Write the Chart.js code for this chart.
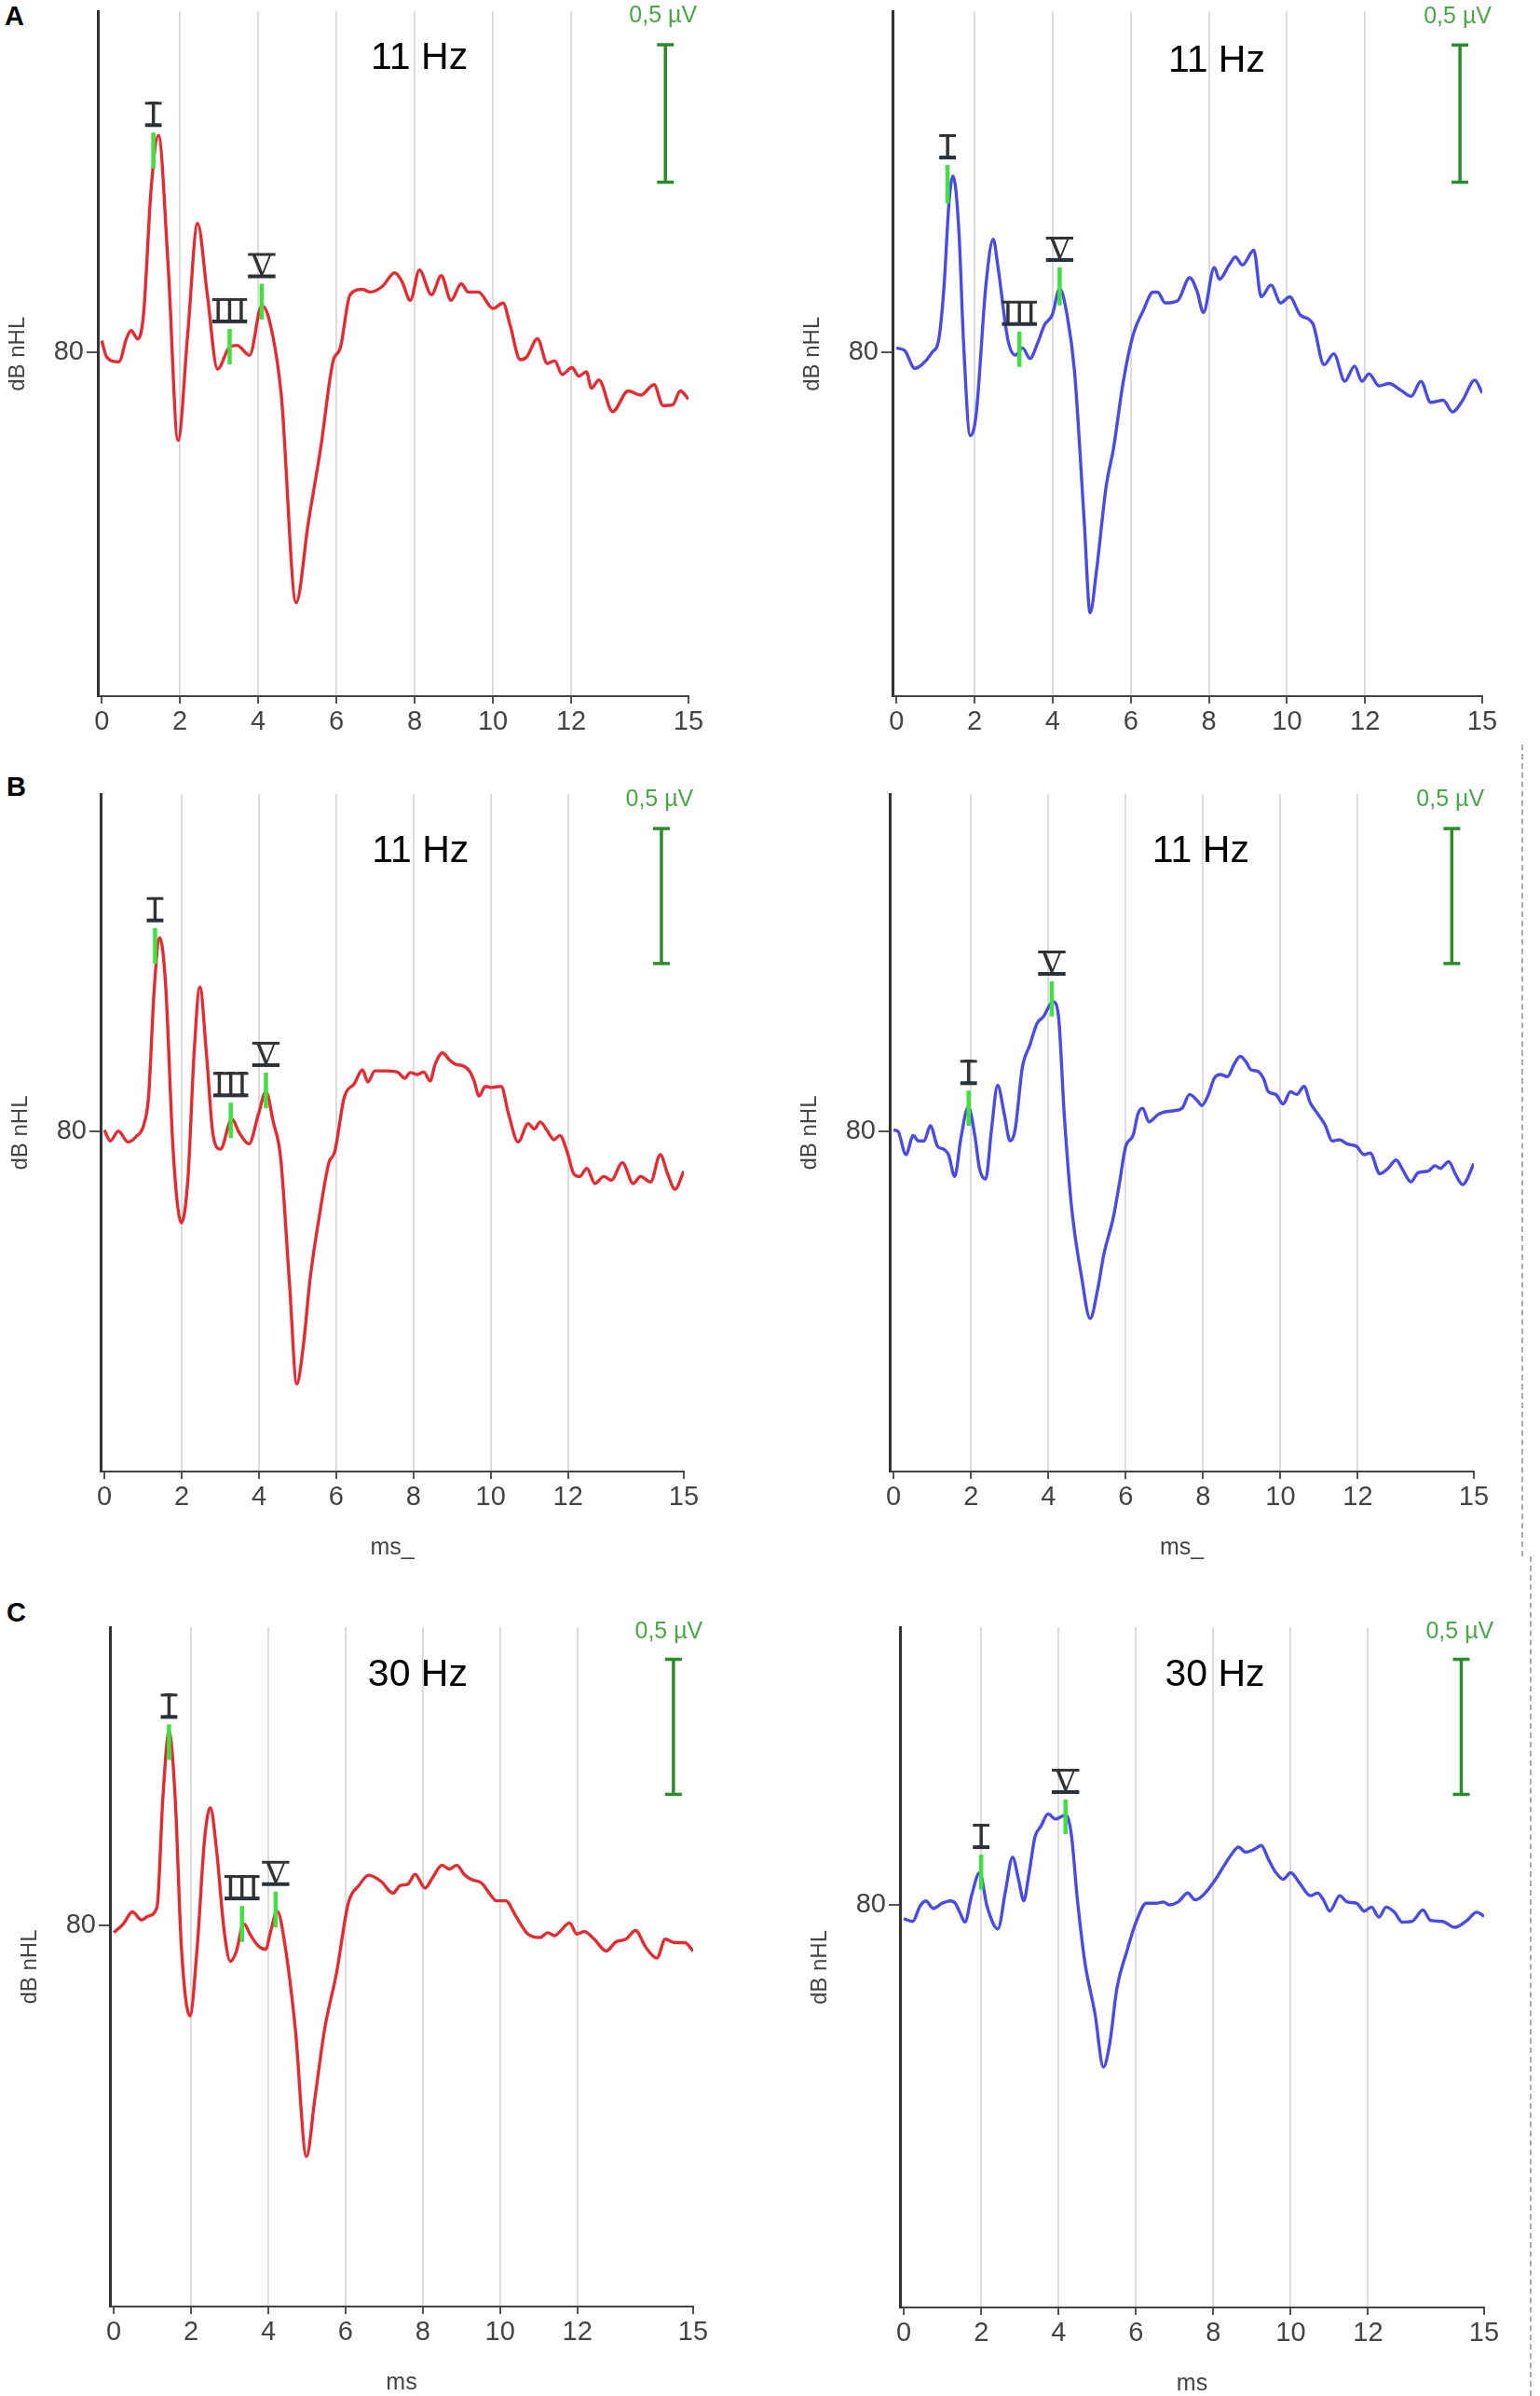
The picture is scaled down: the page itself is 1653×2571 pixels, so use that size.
<!DOCTYPE html>
<html>
<head>
<meta charset="utf-8">
<script src="https://cdn.jsdelivr.net/npm/chart.js@4.4.1/dist/chart.umd.min.js"></script>
<style>
  body { margin:0; background:#fff; }
  #page { position:relative; width:1653px; height:2571px; overflow:hidden; background:#fff; }
  canvas { position:absolute; }
  .letter { position:absolute; font:bold 29px "Liberation Sans", Arial, sans-serif; line-height:29px; color:#000; }
  .dash { position:absolute; border-left:2px dashed #aaa; width:0; }
</style>
</head>
<body>
<div id="page">
  <div class="letter" style="left:5px;top:3px">A</div>
  <div class="letter" style="left:7px;top:830px">B</div>
  <div class="letter" style="left:7px;top:1716px">C</div>
  <div class="dash" style="left:1633px;top:799px;height:871px"></div>
  <div class="dash" style="left:1642px;top:1670px;height:901px"></div>
  <canvas id="aLeft" width="826" height="800" style="left:0;top:0"></canvas>
  <canvas id="aRight" width="827" height="800" style="left:826px;top:0"></canvas>
  <canvas id="bLeft" width="826" height="900" style="left:0;top:800px"></canvas>
  <canvas id="bRight" width="827" height="900" style="left:826px;top:800px"></canvas>
  <canvas id="cLeft" width="826" height="871" style="left:0;top:1700px"></canvas>
  <canvas id="cRight" width="827" height="871" style="left:826px;top:1700px"></canvas>
</div>
<script>
// x ticks (ms)
const xTicks = [0, 2, 4, 6, 8, 10, 12, 15];

// A, left ear (red), 11 Hz
const aLeftTime = [0,0.13,0.44,0.63,0.75,0.92,1.07,1.26,1.45,1.70,1.95,2.2,2.45,2.7,2.96,3.27,3.46,3.78,4.09,4.28,4.59,4.97,5.28,5.6,5.91,6.1,6.35,6.67,6.86,7.17,7.49,7.67,7.89,8.12,8.43,8.68,8.93,9.19,9.37,9.63,10.0,10.26,10.44,10.7,10.86,11.14,11.39,11.58,11.77,12.02,12.2,12.39,12.52,12.71,13.06,13.46,13.78,14.12,14.35,14.6,14.79,15.0];
const aLeftAmp = [0.043,-0.017,-0.034,0.05,0.08,0.05,0.14,0.59,0.79,0.31,-0.32,0.07,0.47,0.21,-0.06,0.02,0.026,-0.01,0.17,0.12,-0.155,-0.91,-0.62,-0.345,-0.034,0.017,0.21,0.23,0.22,0.24,0.29,0.26,0.19,0.30,0.21,0.28,0.19,0.25,0.22,0.22,0.16,0.18,0.10,-0.026,-0.017,0.05,-0.04,-0.03,-0.08,-0.055,-0.086,-0.07,-0.13,-0.10,-0.215,-0.14,-0.155,-0.117,-0.193,-0.19,-0.14,-0.17];
const aLeftWaves = ['I', 'III', 'V'];
const aLeftWaveTime = [1.32, 3.27, 4.09];
const aLeftWaveTop = [0.80, 0.086, 0.25];
const aLeftWaveBottom = [0.67, -0.043, 0.12];

// A, right ear (blue), 11 Hz
const aRightTime = [0,0.21,0.47,0.65,0.91,1.09,1.22,1.35,1.45,1.6,1.72,1.89,2.04,2.29,2.48,2.6,2.86,3.05,3.23,3.42,3.61,3.8,3.99,4.18,4.37,4.56,4.81,4.96,5.12,5.37,5.56,5.81,6.07,6.32,6.57,6.69,6.88,7.2,7.51,7.7,7.86,8.14,8.27,8.52,8.68,8.86,9.15,9.34,9.59,9.84,10.07,10.34,10.66,10.95,11.2,11.48,11.73,11.92,12.1,12.36,12.61,12.93,13.18,13.43,13.68,14.0,14.24,14.5,14.81,15.0];
const aRightAmp = [0.014,0.005,-0.06,-0.047,-0.003,0.05,0.24,0.55,0.64,0.44,0.03,-0.305,-0.23,0.24,0.41,0.31,0.04,-0.012,0.014,-0.024,0.03,0.1,0.134,0.23,0.134,-0.07,-0.62,-0.95,-0.80,-0.49,-0.35,-0.107,0.066,0.15,0.217,0.217,0.178,0.186,0.27,0.22,0.143,0.307,0.264,0.316,0.345,0.316,0.37,0.2,0.243,0.178,0.2,0.134,0.103,-0.047,-0.007,-0.107,-0.052,-0.107,-0.08,-0.124,-0.115,-0.141,-0.162,-0.107,-0.184,-0.176,-0.219,-0.176,-0.103,-0.15];
const aRightWaves = ['I', 'III', 'V'];
const aRightWaveTime = [1.31, 3.15, 4.18];
const aRightWaveTop = [0.68, 0.074, 0.307];
const aRightWaveBottom = [0.54, -0.055, 0.169];

// B, left ear, 11 Hz
const bLeftTime = [0,0.15,0.36,0.61,0.82,1.01,1.14,1.29,1.43,1.58,1.78,1.99,2.16,2.32,2.47,2.64,2.81,3.0,3.3,3.49,3.74,3.99,4.18,4.37,4.56,4.79,4.98,5.14,5.33,5.58,5.81,5.96,6.21,6.47,6.68,6.82,7.0,7.35,7.61,7.77,7.92,8.09,8.27,8.43,8.56,8.75,8.94,9.1,9.26,9.45,9.57,9.7,9.86,10.02,10.27,10.46,10.71,10.97,11.13,11.28,11.47,11.64,11.79,11.98,12.15,12.3,12.49,12.7,12.93,13.12,13.41,13.69,13.88,14.14,14.39,14.58,14.77,15.0];
const bLeftAmp = [0.004,-0.036,0,-0.04,-0.02,0.02,0.126,0.53,0.717,0.55,-0.077,-0.34,-0.178,0.287,0.534,0.287,-0.012,-0.067,0.045,-0.006,-0.047,0.065,0.146,0.034,-0.097,-0.563,-0.937,-0.806,-0.54,-0.3,-0.117,-0.077,0.126,0.176,0.227,0.182,0.223,0.223,0.217,0.196,0.217,0.21,0.219,0.186,0.247,0.29,0.263,0.247,0.243,0.223,0.186,0.13,0.166,0.162,0.166,0.065,-0.04,0.028,0.008,0.034,0,-0.032,-0.016,-0.077,-0.158,-0.168,-0.138,-0.194,-0.168,-0.182,-0.117,-0.194,-0.168,-0.188,-0.087,-0.158,-0.215,-0.148];
const bLeftWaves = ['I', 'III', 'V'];
const bLeftWaveTime = [1.31, 3.27, 4.18];
const bLeftWaveTop = [0.753, 0.105, 0.217];
const bLeftWaveBottom = [0.621, -0.026, 0.085];

// B, right ear, 11 Hz
const bRightTime = [0,0.11,0.32,0.51,0.64,0.79,0.95,1.14,1.3,1.42,1.58,1.74,1.93,2.1,2.22,2.38,2.53,2.69,2.86,3.01,3.14,3.33,3.52,3.71,3.88,3.97,4.12,4.26,4.41,4.6,4.86,5.08,5.28,5.43,5.68,5.83,6.0,6.19,6.32,6.44,6.6,6.83,6.95,7.21,7.46,7.65,7.84,7.97,8.14,8.29,8.45,8.63,8.8,8.96,9.11,9.24,9.39,9.56,9.69,9.88,10.07,10.26,10.42,10.61,10.77,10.96,11.15,11.34,11.53,11.72,11.97,12.16,12.32,12.57,12.78,12.99,13.18,13.37,13.56,13.82,14.0,14.13,14.35,14.52,14.71,15.0];
const bRightAmp = [0.004,0,-0.087,-0.016,-0.036,-0.036,0.02,-0.057,-0.067,-0.087,-0.168,-0.026,0.089,-0.016,-0.138,-0.178,0.004,0.17,0.065,-0.036,0.004,0.237,0.318,0.4,0.425,0.45,0.48,0.43,0.065,-0.28,-0.54,-0.694,-0.583,-0.46,-0.32,-0.2,-0.057,-0.016,0.065,0.085,0.034,0.061,0.069,0.075,0.085,0.136,0.115,0.095,0.136,0.196,0.21,0.202,0.247,0.277,0.257,0.227,0.223,0.196,0.146,0.136,0.101,0.146,0.136,0.166,0.105,0.065,0.024,-0.036,-0.032,-0.047,-0.057,-0.087,-0.081,-0.158,-0.138,-0.107,-0.148,-0.188,-0.154,-0.148,-0.128,-0.138,-0.113,-0.158,-0.198,-0.121];
const bRightWaves = ['I', 'V'];
const bRightWaveTime = [1.94, 4.09];
const bRightWaveTop = [0.15, 0.555];
const bRightWaveBottom = [0.02, 0.425];

// C, left ear, 30 Hz
const cLeftTime = [0,0.25,0.48,0.72,0.89,1.12,1.27,1.43,1.59,1.75,1.97,2.16,2.35,2.5,2.66,2.86,3.02,3.17,3.36,3.55,3.74,3.93,4.06,4.23,4.44,4.7,4.99,5.2,5.46,5.77,6.07,6.35,6.6,6.92,7.23,7.42,7.61,7.8,8.06,8.25,8.5,8.69,8.88,9.07,9.26,9.52,9.77,9.9,10.15,10.41,10.72,11.04,11.23,11.42,11.55,11.8,11.99,12.18,12.44,12.75,13.0,13.26,13.51,13.77,14.06,14.28,14.53,14.78,15.0];
const cLeftAmp = [-0.027,0.006,0.05,0.02,0.034,0.068,0.47,0.716,0.47,-0.08,-0.335,-0.08,0.318,0.436,0.28,-0.023,-0.133,-0.098,0.006,-0.038,-0.076,-0.089,-0.023,0.053,-0.08,-0.383,-0.856,-0.648,-0.383,-0.174,0.081,0.148,0.186,0.163,0.119,0.148,0.152,0.189,0.138,0.176,0.223,0.208,0.223,0.189,0.17,0.157,0.11,0.091,0.091,0.034,-0.032,-0.045,-0.027,-0.038,-0.023,0.009,-0.032,-0.023,-0.051,-0.095,-0.061,-0.051,-0.019,-0.08,-0.121,-0.051,-0.064,-0.064,-0.095];
const cLeftWaves = ['I', 'III', 'V'];
const cLeftWaveTime = [1.43, 3.32, 4.19];
const cLeftWaveTop = [0.744, 0.072, 0.125];
const cLeftWaveBottom = [0.612, -0.061, -0.008];

// C, right ear, 30 Hz
const cRightTime = [0,0.23,0.42,0.57,0.76,0.99,1.2,1.33,1.46,1.58,1.75,1.96,2.15,2.43,2.63,2.81,2.97,3.1,3.23,3.39,3.54,3.73,3.92,4.09,4.2,4.33,4.49,4.68,4.94,5.16,5.32,5.51,5.76,6.01,6.27,6.52,6.71,6.86,7.09,7.34,7.53,7.72,8.04,8.29,8.48,8.65,8.84,9.05,9.24,9.43,9.62,9.81,10.0,10.23,10.51,10.7,10.86,11.01,11.27,11.46,11.71,11.9,12.09,12.28,12.47,12.68,12.89,13.14,13.42,13.61,13.92,14.24,14.56,14.81,15.0];
const cRightAmp = [-0.051,-0.061,-0.004,0.015,-0.013,0.006,0.015,0.006,-0.032,-0.064,0.034,0.119,-0.004,-0.089,0.053,0.176,0.091,0.015,0.11,0.252,0.29,0.337,0.318,0.328,0.333,0.261,0.015,-0.212,-0.402,-0.6,-0.515,-0.307,-0.174,-0.061,0.006,0.006,0.011,0,0.011,0.044,0.019,0.034,0.091,0.148,0.189,0.214,0.195,0.205,0.22,0.167,0.119,0.095,0.119,0.081,0.034,0.044,0.015,-0.023,0.034,0.011,0.006,-0.023,-0.008,-0.045,-0.008,-0.027,-0.064,-0.061,-0.019,-0.057,-0.061,-0.083,-0.057,-0.027,-0.042];
const cRightWaves = ['I', 'V'];
const cRightWaveTime = [2.0, 4.18];
const cRightWaveTop = [0.186, 0.39];
const cRightWaveBottom = [0.057, 0.261];

const RED = '#e52b32', BLUE = '#4a4ae4', MARK = '#3fe03f', BAR = '#2a8c2a';
const SANS = '"Liberation Sans", Arial, sans-serif';

// rate text, 0,5 µV label and roman wave labels (I-beam style: bar above and below)
const abrText = {
  id: 'abrText',
  afterDatasetsDraw(chart, args, opts) {
    const ctx = chart.ctx, xs = chart.scales.x, ys = chart.scales.y;
    ctx.save();
    ctx.textAlign = 'center';
    ctx.textBaseline = 'middle';
    ctx.fillStyle = '#000';
    ctx.font = '41px ' + SANS;
    ctx.fillText(opts.rate, xs.getPixelForValue(opts.rateAt[0]), ys.getPixelForValue(opts.rateAt[1]));
    ctx.fillStyle = '#45a845';
    ctx.font = '25px ' + SANS;
    ctx.fillText('0,5 µV', xs.getPixelForValue(opts.barLabelAt[0]), ys.getPixelForValue(opts.barLabelAt[1]));

    ctx.font = '37px "Liberation Serif", "DejaVu Serif", serif';
    ctx.textBaseline = 'alphabetic';
    opts.waves.forEach((name, i) => {
      const px = xs.getPixelForValue(opts.waveTime[i]);
      const base = ys.getPixelForValue(opts.waveTop[i]) - 8;
      const w = ctx.measureText(name).width * 0.8 + 8;
      ctx.fillStyle = '#333';
      ctx.fillText(name, px, base);
      ctx.fillRect(px - w / 2, base - 25, w, 3);
      ctx.fillStyle = '#2c3038';
      ctx.fillRect(px - w / 2, base - 2, w, 4);
    });
    ctx.restore();
  }
};

function zip(ts, vs) {
  return ts.map((t, i) => ({x: t, y: vs[i]}));
}

function makePanel(id, p) {
  const datasets = [{
    data: zip(p.time, p.amp),
    showLine: true,
    borderColor: p.color,
    borderWidth: 3.4,
    pointRadius: 0,
    cubicInterpolationMode: 'monotone',
    order: 3
  }];
  p.waves.forEach((w, i) => {
    datasets.push({
      data: [{x: p.waveTime[i], y: p.waveTop[i]}, {x: p.waveTime[i], y: p.waveBottom[i]}],
      showLine: true,
      borderColor: MARK,
      borderWidth: 4.5,
      pointRadius: 0,
      order: 1
    });
  });
  // 0,5 µV scale bar
  datasets.push({
    data: [{x: p.bar[0], y: p.bar[1]}, {x: p.bar[0], y: p.bar[1] + 0.5}],
    showLine: true,
    borderColor: BAR,
    borderWidth: 3.5,
    pointStyle: 'line',
    pointRadius: 9,
    pointBorderWidth: 3.5,
    pointBorderColor: BAR,
    order: 0
  });

  new Chart(document.getElementById(id), {
    type: 'scatter',
    data: {datasets: datasets},
    plugins: [abrText],
    options: {
      animation: false,
      responsive: false,
      devicePixelRatio: 1,
      layout: {padding: p.pad},
      plugins: {
        legend: {display: false},
        tooltip: {enabled: false},
        abrText: {rate: p.rate, rateAt: p.rateAt, barLabelAt: p.barLabelAt,
                  waves: p.waves, waveTime: p.waveTime, waveTop: p.waveTop}
      },
      scales: {
        x: {
          type: 'linear', min: -0.1, max: 15,
          afterBuildTicks: (a) => { a.ticks = xTicks.map(v => ({value: v})); },
          afterFit: (a) => { a.height = p.xHeight; a.paddingLeft = 0; a.paddingRight = 0; },
          grid: {
            color: (c) => (c.tick && c.tick.value > 0 && c.tick.value < 15) ? '#dcdcdc' : 'rgba(0,0,0,0)',
            lineWidth: 2, tickColor: '#555', tickLength: 8
          },
          border: {color: '#444', width: 2},
          ticks: {font: {family: SANS, size: 29}, color: '#444', padding: 3, maxRotation: 0, autoSkip: false},
          title: {display: !!p.xTitle, text: p.xTitle, color: '#444', padding: 0,
                  font: {family: SANS, size: 25, lineHeight: 1}}
        },
        y: {
          type: 'linear', min: p.yMin, max: p.yMax,
          afterBuildTicks: (a) => { a.ticks = [{value: 0}]; },
          afterFit: (a) => { a.width = 100; a.paddingTop = 0; a.paddingBottom = 0; },
          grid: {drawOnChartArea: false, tickLength: 12, tickColor: '#555', lineWidth: 2},
          border: {color: '#333', width: 3},
          ticks: {callback: () => '80', font: {family: SANS, size: 29}, color: '#444', padding: 3},
          title: {display: true, text: 'dB nHL', color: '#444', padding: 0,
                  font: {family: SANS, size: 24, lineHeight: 1.2}}
        }
      }
    }
  });
}

makePanel('aLeft', {time: aLeftTime, amp: aLeftAmp, color: RED,
  waves: aLeftWaves, waveTime: aLeftWaveTime, waveTop: aLeftWaveTop, waveBottom: aLeftWaveBottom,
  rate: '11 Hz', rateAt: [8.12, 1.069], bar: [14.41, 0.62], barLabelAt: [14.35, 1.224],
  yMin: -1.25, yMax: 1.24, pad: {left: 5, right: 87, top: 10, bottom: 0}, xHeight: 53, xTitle: ''});

makePanel('aRight', {time: aRightTime, amp: aRightAmp, color: BLUE,
  waves: aRightWaves, waveTime: aRightWaveTime, waveTop: aRightWaveTop, waveBottom: aRightWaveBottom,
  rate: '11 Hz', rateAt: [8.2, 1.057], bar: [14.43, 0.617], barLabelAt: [14.37, 1.22],
  yMin: -1.253, yMax: 1.238, pad: {left: 32, right: 62, top: 10, bottom: 0}, xHeight: 53, xTitle: ''});

makePanel('bLeft', {time: bLeftTime, amp: bLeftAmp, color: RED,
  waves: bLeftWaves, waveTime: bLeftWaveTime, waveTop: bLeftWaveTop, waveBottom: bLeftWaveBottom,
  rate: '11 Hz', rateAt: [8.18, 1.036], bar: [14.42, 0.621], barLabelAt: [14.37, 1.229],
  yMin: -1.261, yMax: 1.249, pad: {left: 8, right: 92, top: 52, bottom: 26}, xHeight: 95, xTitle: 'ms_'});

makePanel('bRight', {time: bRightTime, amp: bRightAmp, color: BLUE,
  waves: bRightWaves, waveTime: bRightWaveTime, waveTop: bRightWaveTop, waveBottom: bRightWaveBottom,
  rate: '11 Hz', rateAt: [7.94, 1.036], bar: [14.43, 0.621], barLabelAt: [14.39, 1.229],
  yMin: -1.261, yMax: 1.249, pad: {left: 29, right: 71, top: 52, bottom: 26}, xHeight: 95, xTitle: 'ms_'});

makePanel('cLeft', {time: cLeftTime, amp: cLeftAmp, color: RED,
  waves: cLeftWaves, waveTime: cLeftWaveTime, waveTop: cLeftWaveTop, waveBottom: cLeftWaveBottom,
  rate: '30 Hz', rateAt: [7.87, 0.924], bar: [14.49, 0.485], barLabelAt: [14.37, 1.085],
  yMin: -1.411, yMax: 1.104, pad: {left: 18, right: 82, top: 46, bottom: 1}, xHeight: 95, xTitle: 'ms'});

makePanel('cRight', {time: cRightTime, amp: cRightAmp, color: BLUE,
  waves: cRightWaves, waveTime: cRightWaveTime, waveTop: cRightWaveTop, waveBottom: cRightWaveBottom,
  rate: '30 Hz', rateAt: [8.04, 0.848], bar: [14.41, 0.409], barLabelAt: [14.37, 1.01],
  yMin: -1.49, yMax: 1.028, pad: {left: 40, right: 60, top: 46, bottom: 0}, xHeight: 95, xTitle: 'ms'});
</script>
</body>
</html>
